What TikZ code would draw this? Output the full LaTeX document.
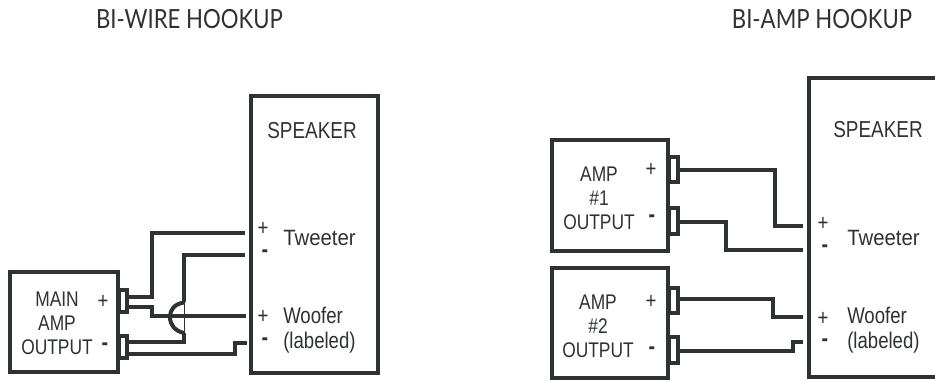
\documentclass[tikz,border=0pt]{standalone}
\usepackage{fontspec}
\newfontfamily\titlefont[FakeStretch=0.84]{Lato}
\newfontfamily\labfont[FakeStretch=0.82]{Liberation Sans}
\newfontfamily\twfont[FakeStretch=0.92]{Liberation Sans}
\definecolor{ink}{HTML}{2E3233}
\tikzset{
  x=0.75pt,y=-0.75pt,
  boxed/.style={draw=ink,line width=2.8pt,fill=white,inner sep=0pt,outer sep=0pt},
  heavy/.style={boxed,line width=3.6pt},
  term/.style={draw=ink,line width=2.4pt,fill=white,inner sep=0pt,outer sep=0pt},
  wire/.style={draw=ink,line width=3pt,line join=miter},
  spk/.style={text=ink,font=\labfont\fontsize{17.3pt}{18pt}\selectfont,inner sep=0pt},
  lab/.style={text=ink,font=\labfont\fontsize{15.9pt}{18pt}\selectfont,inner sep=0pt,align=center},
  sid/.style={text=ink,font=\labfont\fontsize{17pt}{18pt}\selectfont,inner sep=0pt,anchor=base west},
  twt/.style={text=ink,font=\twfont\fontsize{16.6pt}{18pt}\selectfont,inner sep=0pt,anchor=base west},
  sign/.style={text=ink,font=\labfont\fontsize{17pt}{18pt}\selectfont,inner sep=0pt},
  minus/.style={text=ink,font=\labfont\bfseries\fontsize{18pt}{18pt}\selectfont,inner sep=0pt},
  head/.style={text=ink,font=\titlefont\fontsize{19.8pt}{20pt}\selectfont,inner sep=0pt}
}
\newcommand{\bx}[5]{\node[#1,anchor=north west,minimum width=#4*0.75pt,minimum height=#5*0.75pt] (#2) at (#3) {};}
\begin{document}
\begin{tikzpicture}
\useasboundingbox (0,0) rectangle (935,381);
\node[head] (t1) at (189.5,19.5) {BI-WIRE HOOKUP};
\node[head] (t2) at (822,19.5) {BI-AMP HOOKUP};
% left
\bx{boxed}{spkL}{251,96}{127}{277}
\bx{boxed}{ampL}{10,272}{108}{100}
\bx{term}{tp}{119,290}{8}{22}
\bx{term}{tm}{119,336}{8}{22}
\node[spk] (s1) at (312,131) {SPEAKER};
\node[lab] (a1) at (57,323) {MAIN\\AMP\\OUTPUT};
\node[sign] (ap) at (103,302) {+};
\node[minus] (am) at (105,347) {-};
\node[sign] (k1) at (263,229) {+};
\node[minus] (k2) at (265,254) {-};
\node[sign] (k3) at (263,317) {+};
\node[minus] (k4) at (265,342) {-};
\node[twt] (l1) at (283,245) {Tweeter};
\node[sid] (l2) at (283,323) {Woofer};
\node[sid] (l3) at (283,348) {(labeled)};
\coordinate (e1) at (245,233); \coordinate (e2) at (245,255);
\coordinate (e3) at (246,316); \coordinate (e4) at (247,343);
\draw[wire] (tp.east |- 0,297) -| (152,233) -- (e1);
\draw[wire] (tp.east |- 0,307) -- (152,307) |- (e3);
\draw[wire] (tm.east |- 0,342) -| (184,333);
\draw[wire] (184,302) |- (e2);
\draw[draw=ink,line width=3pt] (184,302.5) .. controls (174,304) and (170,310) .. (170,317) .. controls (170,325) and (175,331) .. (184,333);
\draw[draw=ink,line width=0.7pt] (184,302) -- (184,333);
\draw[wire] (tm.east |- 0,354) -| (235,343) -- (e4);
% right
\bx{heavy}{spkR}{809,78}{140}{299}
\bx{heavy}{amp1}{552,140}{116}{111}
\bx{heavy}{amp2}{552,268}{116}{110}
\bx{term}{p1}{669,157}{9}{25}
\bx{term}{m1}{669,208}{9}{26}
\bx{term}{p2}{669,288}{9}{25}
\bx{term}{m2}{669,337}{9}{26}
\node[spk] (s2) at (878,130) {SPEAKER};
\node[lab] (a2) at (599,198) {AMP\\\#1\\OUTPUT};
\node[lab] (a3) at (598,326) {AMP\\\#2\\OUTPUT};
\node[sign] (b1) at (651,170) {+};
\node[minus] (b2) at (652,219) {-};
\node[sign] (b3) at (651,302) {+};
\node[minus] (b4) at (652,351) {-};
\node[sign] (b5) at (823,224) {+};
\node[minus] (b6) at (825,249) {-};
\node[sign] (b7) at (823,319) {+};
\node[minus] (b8) at (825,343) {-};
\node[twt] (r1) at (847,245) {Tweeter};
\node[sid] (r2) at (847,323) {Woofer};
\node[sid] (r3) at (847,348) {(labeled)};
\coordinate (f1) at (803,226); \coordinate (f2) at (803,250);
\coordinate (f3) at (803,317); \coordinate (f4) at (803,342);
\draw[wire] (p1.east |- 0,170) -| (775,226) -- (f1);
\draw[wire] (m1.east |- 0,222) -| (726,250) -- (f2);
\draw[wire] (p2.east |- 0,299) -| (773,317) -- (f3);
\draw[wire] (m2.east |- 0,351) -| (793,342) -- (f4);
\end{tikzpicture}
\end{document}
